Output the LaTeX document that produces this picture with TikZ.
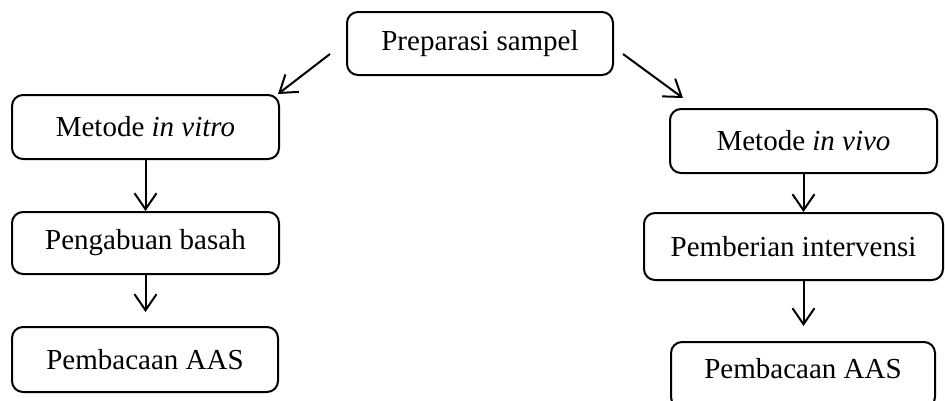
\documentclass[tikz,border=0pt]{standalone}
\usepackage{fontspec}
\setmainfont{Liberation Serif}
\usetikzlibrary{arrows.meta}
\begin{document}
\begin{tikzpicture}[x=1pt,y=-1pt,
  stepbox/.style={draw, line width=2pt, rounded corners=11pt, inner sep=0pt,
    font=\fontsize{29}{35}\selectfont},
  flow/.style={line width=2pt, -{Straight Barb[length=16pt,width=22pt]}}]
  \useasboundingbox (0,0) rectangle (945,400);
  \begin{scope}
    \clip (0,0) rectangle (945,400);
    % top box
    \node[stepbox, minimum width=266pt, minimum height=63pt] (prep) at (480,43.5) {Preparasi sampel};
    % left branch
    \node[stepbox, minimum width=267pt, minimum height=64pt] (vitro) at (145.5,127) {Metode \textit{in vitro}};
    \node[stepbox, minimum width=267pt, minimum height=62pt] (wet) at (145.5,243) {Pengabuan basah};
    \node[stepbox, minimum width=266pt, minimum height=65pt] (aasL) at (145,359.5) {Pembacaan AAS};
    % right branch
    \node[stepbox, minimum width=267pt, minimum height=64pt] (vivo) at (803.5,141) {Metode \textit{in vivo}};
    \node[stepbox, minimum width=299pt, minimum height=67pt] (interv) at (793.5,246.5) {Pemberian intervensi};
    \node[stepbox, minimum width=264pt, minimum height=66pt] (aasR) at (803,375) {};
    \node[font=\fontsize{29}{35}\selectfont, inner sep=0pt] (aasRt) at (803,369) {Pembacaan AAS};
  \end{scope}
  % free ends of the diagonal arrows
  \coordinate (dl0) at (330,54);
  \coordinate (dl1) at (278,94);
  \coordinate (dr0) at (623,54);
  \coordinate (dr1) at (683,98);
  \draw[flow] (dl0) -- (dl1);
  \draw[flow] (dr0) -- (dr1);
  % vertical arrows
  \draw[flow] (vitro.south) -- (vitro.south |- wet.north);
  \draw[flow] (wet.south) -- ([yshift=14pt]wet.south |- aasL.north);
  \draw[flow] (vivo.south) -- (vivo.south |- interv.north);
  \draw[flow] (vivo.south |- interv.south) -- ([yshift=15pt]vivo.south |- aasR.north);
\end{tikzpicture}
\end{document}
